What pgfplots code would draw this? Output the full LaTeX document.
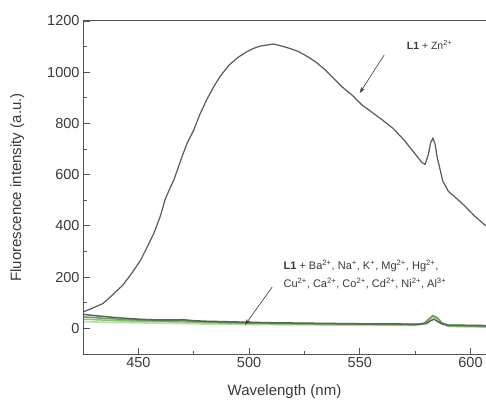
\documentclass[border=0pt]{standalone}
\usepackage{fontspec}
\setmainfont{Liberation Sans}
\usepackage{pgfplots}
\pgfplotsset{compat=1.18}
\usetikzlibrary{arrows.meta}
\definecolor{axgray}{HTML}{555555}
\definecolor{textgray}{HTML}{3A3A3A}
\definecolor{zncol}{HTML}{5A5A5A}
\definecolor{gdark}{HTML}{56664F}
\definecolor{gmid}{HTML}{6F9A62}
\definecolor{glite}{HTML}{8CC07C}
\definecolor{gpale}{HTML}{B8E3A8}
\begin{document}
\begin{tikzpicture}
\begin{axis}[
  name=ax,
  scale only axis, width=403pt, height=333pt,
  xmin=425, xmax=607, ymin=-100, ymax=1200,
  axis line style={draw=none},
  tick align=inside, tick pos=left,
  xtick={450,500,550,600}, minor x tick num=1,
  ytick={0,200,...,1200}, minor y tick num=1,
  major tick length=6.5pt, minor tick length=3.5pt,
  tick style={axgray, line width=0.9pt},
  ticklabel style={font=\fontsize{14.5}{17}\selectfont, text=textgray},
  /pgf/number format/assume math mode=true,
  /pgf/number format/1000 sep={},
  xlabel={Wavelength (nm)},
  ylabel={Fluorescence intensity (a.u.)},
  every axis x label/.style={at={(axis description cs:0.5,-0.114)}, anchor=center},
  every axis y label/.style={at={(axis description cs:-0.163,0.5)}, rotate=90, anchor=center},
  label style={font=\fontsize{15}{18}\selectfont, text=textgray},
  clip=false,
]
% L1 + Zn2+
\addplot[zncol, line width=1.2pt] coordinates {
(425,64)(429,78)(434,97)(438,128)(443,169)(447,215)(451,266)(454,318)
(457,371)(460,440)(462,501)(464,542)(466,579)(468,628)(470,677)(472,722)
(475,774)(478,840)(481,895)(484,943)(487,985)(491,1028)(495,1058)(499,1080)
(502,1093)(505,1102)(508,1106)(511,1110)(514,1104)(518,1094)(522,1082)
(526,1063)(530,1041)(534,1012)(538,978)(542,943)(547,907)(551,872)(555,847)
(560,815)(565,781)(570,735)(574,692)(578,648)(579.5,640)(581,680)(582,725)
(583,742)(584,720)(585,665)(586,630)(587.5,575)(590,535)(594,505)(598,473)
(602,437)(607,400)};
% L1 + other ions
\addplot[gpale, line width=1.6pt] coordinates {
(425,26)(440,23)(460,20)(480,17)(500,15)(540,13)(575,11)(579,17)(581,32)
(583,45)(585,38)(587,18)(590,7)(607,5)};
\addplot[glite, line width=1.5pt] coordinates {
(425,36)(440,30)(455,27)(470,25)(490,20)(510,18)(540,15)(560,14)(575,13)
(579,19)(581,34)(583,48)(585,40)(587,20)(590,9)(607,7)};
\addplot[gmid, line width=1.5pt] coordinates {
(425,45)(435,39)(445,34)(455,31)(465,29)(470,30)(480,25)(490,23)(500,21)
(520,19)(540,17)(560,16)(575,15)(579,20)(581,35)(583,50)(585,42)(587,22)
(590,11)(600,9)(607,8)};
\addplot[gdark, line width=1.5pt] coordinates {
(425,55)(430,50)(435,46)(440,42)(445,39)(450,36)(455,34)(460,33)(465,33)
(470,34)(475,30)(480,28)(490,26)(500,24)(510,22)(520,21)(530,20)(540,19)
(550,18)(560,18)(570,17)(577,17)(580,19)(582,30)(583.5,36)(585,28)(587,18)
(590,13)(600,12)(607,11)};
% annotations
\node[font=\fontsize{10.5}{12}\selectfont, text=textgray]
  at (axis cs:581.5,1106) {\textbf{L1} + Zn\textsuperscript{2+}};
\draw[-{Stealth[length=6pt,width=4pt]}, textgray, line width=0.6pt]
  (axis cs:561,1067) -- (axis cs:550,919);
\node[anchor=west, align=left, inner sep=0pt, font=\fontsize{11}{18}\selectfont, text=textgray]
  at (axis cs:515.5,212) {\textbf{L1} + Ba\textsuperscript{2+}, Na\textsuperscript{+}, K\textsuperscript{+}, Mg\textsuperscript{2+}, Hg\textsuperscript{2+},\\
  Cu\textsuperscript{2+}, Ca\textsuperscript{2+}, Co\textsuperscript{2+}, Cd\textsuperscript{2+}, Ni\textsuperscript{2+}, Al\textsuperscript{3+}};
\draw[-{Stealth[length=6pt,width=4pt]}, textgray, line width=0.6pt]
  (axis cs:510.4,161) -- (axis cs:498.2,14);
\end{axis}
% frame: left, top and bottom only (right side is cropped in the reference)
\draw[axgray, line width=1pt] (ax.north east) -- (ax.north west) -- (ax.south west) -- (ax.south east);
\pgfresetboundingbox
\useasboundingbox ([shift={(-83pt,-47pt)}]ax.south west) rectangle ([shift={(0pt,21pt)}]ax.north east);
\end{tikzpicture}
\end{document}
